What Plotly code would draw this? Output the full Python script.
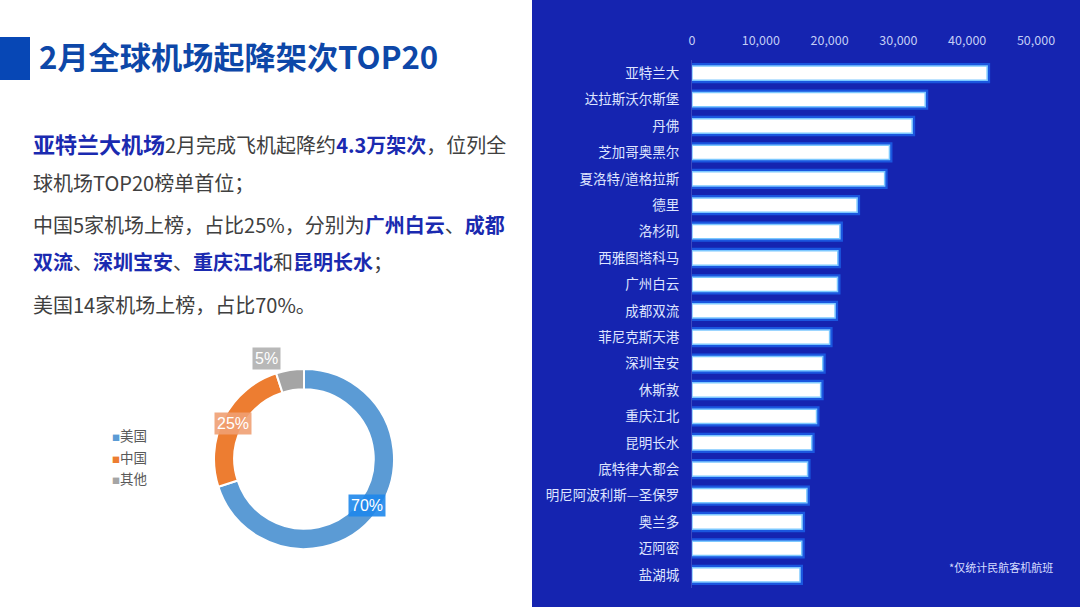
import plotly.graph_objects as go

W = 1080
H = 607

airports = ["亚特兰大", "达拉斯沃尔斯堡", "丹佛", "芝加哥奥黑尔", "夏洛特/道格拉斯", "德里", "洛杉矶", "西雅图塔科马",
            "广州白云", "成都双流", "菲尼克斯天港", "深圳宝安", "休斯敦", "重庆江北", "昆明长水", "底特律大都会",
            "明尼阿波利斯—圣保罗", "奥兰多", "迈阿密", "盐湖城"]
flights = [42900, 33900, 32000, 28700, 28000, 24000, 21500, 21200, 21150, 20800,
           20000, 19000, 18700, 18100, 17400, 16800, 16700, 16000, 15950, 15700]
x_ticks = [0, 10000, 20000, 30000, 40000, 50000]

regions = ["美国", "中国", "其他"]
shares = [70, 25, 5]
region_colors = ["#5b9bd5", "#ed7d31", "#a5a5a5"]

FONT = "Noto Sans CJK SC"
GREY = "#404040"
EMPH = "#1a2ab0"


def px(x):
    return x / W


def py(y):
    return 1 - y / H


def b(text, size=None):
    style = f"color:{EMPH}" + (f";font-size:{size}px" if size else "")
    return f'<b><span style="{style}">{text}</span></b>'


fig = go.Figure()

# glow under the bars, then the white bars
fig.add_trace(go.Bar(y=airports, x=flights, orientation="h", width=0.54, hoverinfo="skip",
                     marker=dict(color="#1450e0", line=dict(color="rgba(30,120,255,0.6)", width=6))))
fig.add_trace(go.Bar(y=airports, x=flights, orientation="h", width=0.54,
                     marker=dict(color="white", line=dict(color="#7cc8ff", width=1.5))))

fig.add_trace(go.Pie(labels=regions, values=shares, hole=0.775, sort=False, direction="clockwise", rotation=0,
                     textinfo="none", showlegend=False,
                     marker=dict(colors=region_colors, line=dict(color="white", width=2)),
                     domain=dict(x=[px(214), px(394)], y=[py(549), py(369)])))

fig.update_layout(
    width=W, height=H, margin=dict(l=0, r=0, t=0, b=0, autoexpand=False), autosize=False,
    paper_bgcolor="white", plot_bgcolor="rgba(0,0,0,0)",
    barmode="overlay", showlegend=False,
    font=dict(family=FONT, color=GREY),
    xaxis=dict(domain=[px(692), px(1036)], range=[0, 50000], side="top", anchor="y",
               tickvals=x_ticks, tickformat=",", showgrid=False, zeroline=False,
               ticks="outside", ticklen=9, tickcolor="rgba(0,0,0,0)",
               tickfont=dict(size=12.5, color="#c3cdf5", family=FONT)),
    yaxis=dict(domain=[py(588), py(60)], autorange="reversed", anchor="x", showgrid=False,
               showline=True, linecolor="#3a49c0", linewidth=1,
               ticks="outside", ticklen=9, tickcolor="rgba(0,0,0,0)",
               tickfont=dict(size=13.5, color="#dfe5ff", family=FONT)),
    shapes=[
        dict(type="rect", xref="paper", yref="paper", x0=px(532), x1=1, y0=0, y1=1,
             fillcolor="#1524b0", line_width=0, layer="below"),
        dict(type="rect", xref="paper", yref="paper", x0=0, x1=px(30), y0=py(80), y1=py(37),
             fillcolor="#0747b5", line_width=0, layer="below"),
    ],
)


def add_text(x, y, text, size, color=GREY, anchor="left", family=FONT, **kw):
    fig.add_annotation(xref="paper", yref="paper", x=px(x), y=py(y), text=text, showarrow=False,
                       xanchor=anchor, yanchor="middle", font=dict(size=size, color=color, family=family), **kw)


add_text(37, 56, "<b>2月全球机场起降架次TOP20</b>", 31.2, "#0d47a8")

add_text(31, 143, b("亚特兰大机场", 22) + "2月完成飞机起降约" + b("4.3万架次") + "，位列全", 20)
add_text(31, 182, "球机场TOP20榜单首位；", 20)
add_text(31, 224, "中国5家机场上榜，占比25%，分别为" + b("广州白云") + "、" + b("成都"), 20)
add_text(31, 261, b("双流") + "、" + b("深圳宝安") + "、" + b("重庆江北") + "和" + b("昆明长水") + "；", 20)
add_text(31, 304, "美国14家机场上榜，占比70%。", 20)

# donut labels
label_spots = [(367, 505, "rgba(30,135,235,0.9)"), (233, 423, "rgba(240,160,115,0.9)"), (266, 358, "#b8b8b8")]
for share, (lx, ly, bg) in zip(shares, label_spots):
    add_text(lx, ly, f"{share}%", 16, "white", anchor="center", family="Liberation Sans", bgcolor=bg, borderpad=2)

# legend
for region, color, ly in zip(regions, region_colors, [435, 457, 478]):
    add_text(110, ly, f'<span style="color:{color};font-size:8px">■</span>' + region, 13.5, "#595959")

add_text(1055, 567, "*仅统计民航客机航班", 11, "#d5dcff", anchor="right")

# page margin would otherwise shift the whole figure by 8px
fig.write_html("out.html", config={"displayModeBar": False},
               post_script="document.body.style.margin='0';document.body.style.overflow='hidden';")
